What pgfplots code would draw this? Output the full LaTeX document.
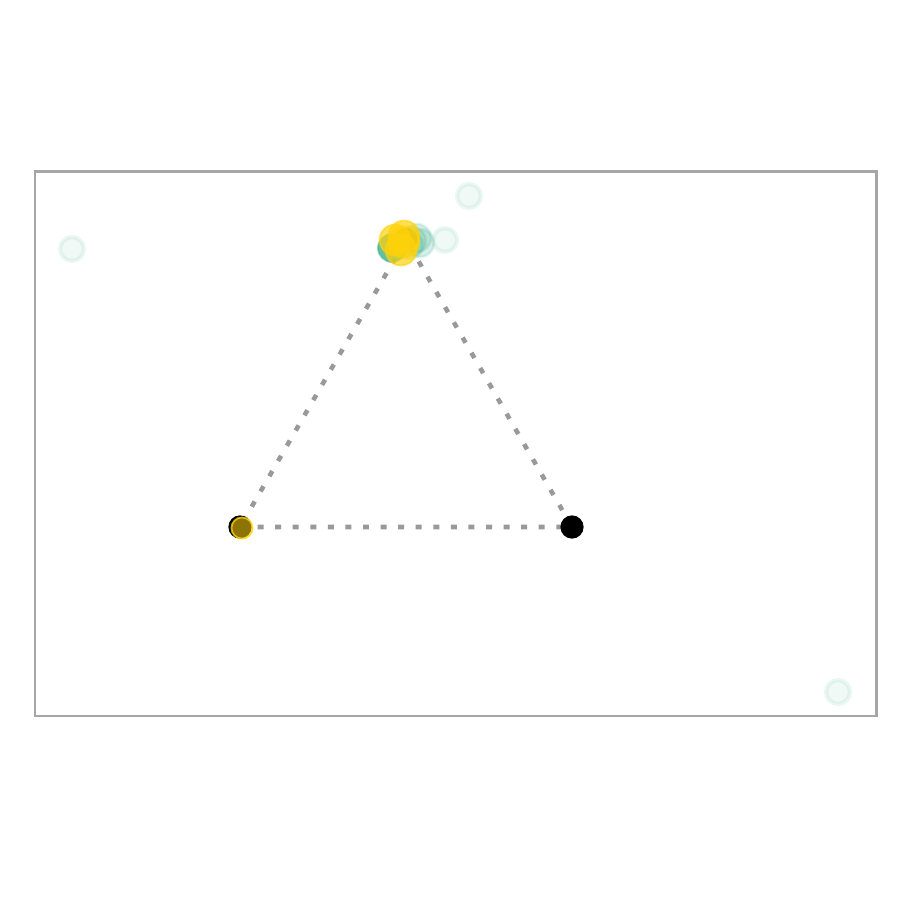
\documentclass[border=0pt]{standalone}
\usepackage{pgfplots}
\pgfplotsset{compat=1.18}
\definecolor{axgray}{HTML}{A6A6A6}
\definecolor{dotgray}{HTML}{999999}
\definecolor{tealc}{HTML}{3DB08E}
\definecolor{goldc}{HTML}{FFD20A}
\begin{document}
\begin{tikzpicture}
\begin{axis}[
  scale only axis,
  width=8.41cm, height=5.44cm,
  xmin=35, xmax=876, ymin=184, ymax=728,
  axis line style={axgray, line width=0.85pt},
  ticks=none,
  clip=true,
]
\addplot[dotgray, line width=1.3pt, dash pattern=on 1.7pt off 3.3pt, no marks]
  coordinates {(240,373) (572,373) (406,660.5) (240,373)};
\addplot[only marks, mark=*, mark size=3.1pt, black]
  coordinates {(240,373) (572,373) (406,660.5)};
% faint teal points
\addplot[only marks, mark=*, mark size=3.4pt,
  mark options={draw=tealc, fill=tealc, fill opacity=0.08, draw opacity=0.1, line width=1.2pt}]
  coordinates {(72,651) (469,704) (445,660) (838,208)};
% teal cluster near apex
\addplot[only marks, mark=*, mark size=4.0pt,
  mark options={draw=tealc, fill=tealc, fill opacity=0.2, draw opacity=0.15, line width=0.8pt}]
  coordinates {(420,657) (417,662) (412,659) (409,655)};
\addplot[only marks, mark=*, mark size=4.0pt,
  mark options={draw=tealc, fill=tealc, fill opacity=0.8, draw opacity=0.5, line width=0.5pt}]
  coordinates {(392,652)};
% yellow points
\addplot[only marks, mark=*, mark size=4.4pt,
  mark options={draw=goldc, fill=goldc, fill opacity=0.7, draw opacity=0.6, line width=0.5pt}]
  coordinates {(395,660) (404,664) (401,650) (404,658)};
\addplot[only marks, mark=*, mark size=3.0pt,
  mark options={draw=goldc, fill=goldc, fill opacity=0.55, draw opacity=0.8, line width=0.5pt}]
  coordinates {(242,372)};
\end{axis}
\path (current axis.south west) ++(-0.35cm,-1.84cm) rectangle ++(9cm,9cm);
\end{tikzpicture}
\end{document}
